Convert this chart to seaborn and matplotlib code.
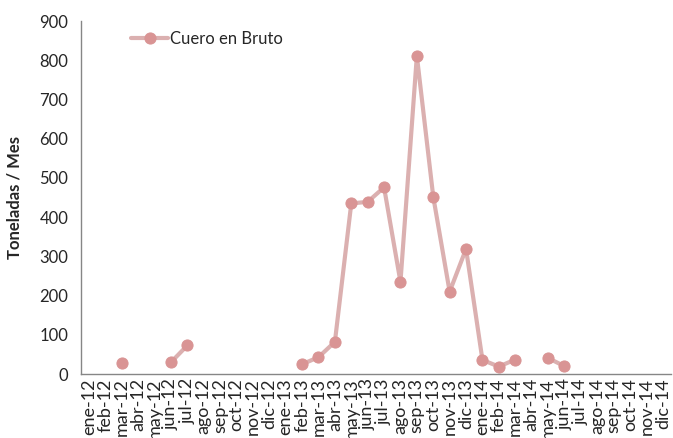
import numpy as np
import pandas as pd
import matplotlib
matplotlib.use("Agg")
import matplotlib.pyplot as plt
import seaborn as sns

meses = ["ene", "feb", "mar", "abr", "may", "jun",
         "jul", "ago", "sep", "oct", "nov", "dic"]
years = ["12", "13", "14"]
labels = [m + "-" + y for y in years for m in meses]

nan = np.nan
cuero = [nan, nan, 27, nan, nan, 30, 73, nan, nan, nan, nan, nan,
         nan, 25, 43, 82, 435, 439, 476, 235, 811, 452, 210, 319,
         36, 19, 37, nan, 41, 20, nan, nan, nan, nan, nan, nan]

df = pd.DataFrame({"idx": range(len(labels)), "mes": labels, "val": cuero})
# tramos separados por meses sin dato (huecos en la linea)
df["tramo"] = df["val"].isna().cumsum()
df = df.dropna(subset=["val"])

sns.set_style("white")
plt.rcParams["font.family"] = ["Lato", "DejaVu Sans"]

fig = plt.figure(figsize=(6.73, 4.38), dpi=100)
ax = fig.add_axes([0.120, 0.146, 0.877, 0.806])

line_c = "#dbb0b0"
mark_c = "#d99494"

sns.lineplot(data=df, x="idx", y="val", units="tramo", estimator=None,
             ax=ax, color=line_c, linewidth=3,
             marker="o", markersize=8, markerfacecolor=mark_c,
             markeredgecolor=mark_c, label="Cuero en Bruto")

ax.set_xlim(-0.5, len(labels) - 0.5)
ax.set_ylim(0, 900)
ax.set_yticks(range(0, 901, 100))
ax.set_xticks(range(len(labels)))
ax.set_xticklabels(labels, rotation=90, fontsize=13)
ax.set_xticks(np.arange(-0.5, len(labels), 1), minor=True)
ax.tick_params(axis="x", which="major", length=0, pad=3)
ax.tick_params(axis="x", which="minor", length=9, direction="inout",
               color="#868686", width=1)
ax.tick_params(axis="y", labelsize=12, length=5, direction="out",
               color="#868686", width=1, pad=4)
ax.set_xlabel("")
ax.set_ylabel("Toneladas / Mes", fontsize=12, weight="bold", labelpad=12)

for s in ["top", "right"]:
    ax.spines[s].set_visible(False)
for s in ["left", "bottom"]:
    ax.spines[s].set_color("#868686")
    ax.spines[s].set_linewidth(1)

h, l = ax.get_legend_handles_labels()
ax.legend(h[:1], l[:1], loc="upper left", bbox_to_anchor=(0.06, 1.015),
          frameon=False, fontsize=12, handlelength=2.2, handletextpad=0.1)

fig.savefig("out.png", dpi=100)
